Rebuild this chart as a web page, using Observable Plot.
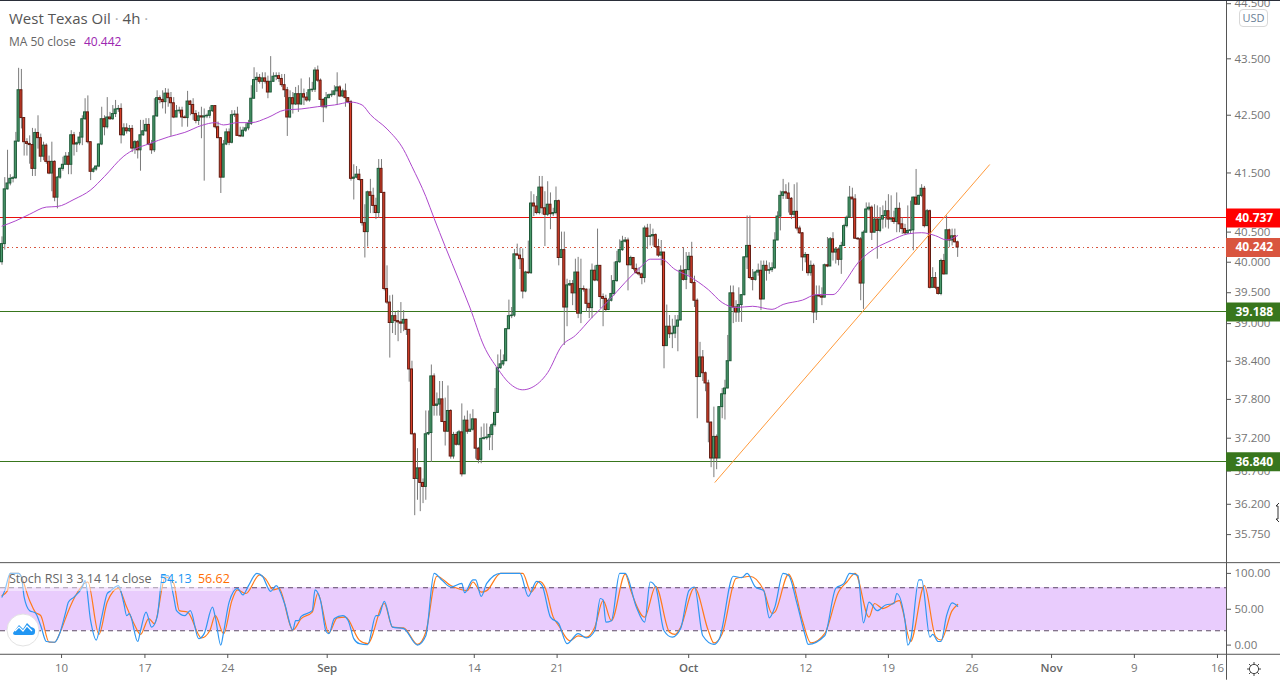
<!DOCTYPE html>
<html><head><meta charset="utf-8">
<script src="https://cdn.jsdelivr.net/npm/d3@7"></script>
<script src="https://cdn.jsdelivr.net/npm/@observablehq/plot@0.6"></script>
<style>
html,body{margin:0;padding:0;background:#fff;overflow:hidden}
#wrap{position:relative;width:1280px;height:680px;font-family:"Open Sans",sans-serif}
#wrap svg{display:block}
.ov{position:absolute;white-space:nowrap}
</style></head><body><div id="wrap">
<div id="top"></div><div id="bottom"></div>
<div class="ov" style="left:0;top:0;width:1280px;height:1px;background:#2a2e39"></div>
<div class="ov" style="left:9px;top:8px;font-size:15px;color:#555">West Texas Oil <span style="color:#aaa">·</span> 4h <span style="color:#aaa">·</span></div>
<div class="ov" style="left:9px;top:33px;font-size:12px;color:#666">MA 50 close <span style="color:#9c27b0;margin-left:5px">40.442</span></div>
<div class="ov" style="left:1239px;top:9px;width:27px;height:16px;border:1px solid #d8d8d8;border-radius:4px;font-size:11px;line-height:16px;text-align:center;color:#6b8096;background:#fff">USD</div>
<div class="ov" style="left:0;top:571px;width:232px;height:20px;background:rgba(255,255,255,.45)"></div>
<div class="ov" style="left:9px;top:570px;font-size:12.5px;color:#666">Stoch RSI 3 3 14 14 close <span style="color:#2196f3;margin-left:5px">54.13</span> <span style="color:#ff6d00;margin-left:3px">56.62</span></div>
<svg class="ov" style="left:6px;top:613px" width="34" height="34"><circle cx="17" cy="17" r="16" fill="#fff" stroke="#e3e3e3"/><path d="M7 20 L13 12 L17 16 L21 10 L25 14 Q30 15 29 19 Q29 22 26 22 L9 22 Q7 22 7 20Z" fill="#2196f3"/><path d="M9 18 L13 14 L17 18 L21 13 L26 18" fill="none" stroke="#fff" stroke-width="1.2"/></svg>
<svg class="ov" style="left:1246px;top:661px" width="16" height="16"><circle cx="8" cy="8" r="4.6" fill="none" stroke="#444"/><path d="M8 1V3.4M8 12.6V15M1 8H3.4M12.6 8H15M3 3L4.8 4.8M11.2 11.2L13 13M13 3L11.2 4.8M4.8 11.2L3 13" stroke="#444"/></svg>
<svg class="ov" style="left:1274px;top:502px" width="6" height="22"><path d="M5 1L2 4H4V17H2L5 20" fill="#fff" stroke="#333"/></svg>
</div>
<script>
const firstOpen = 40.0;
const closes = [
40.30,41.22,41.32,41.40,41.41,42.04,42.94,42.45,42.03,42.00,
41.98,41.57,42.19,42.10,41.78,41.97,41.69,41.49,41.69,41.08,
41.42,41.57,41.64,41.78,41.64,42.15,41.99,42.01,42.11,42.43,
42.55,42.03,41.52,41.56,41.61,41.99,42.43,42.29,42.46,42.43,
42.52,42.60,42.61,42.15,42.27,42.22,42.26,41.92,42.03,41.89,
42.15,42.22,42.33,41.99,41.89,42.48,42.80,42.77,42.73,42.88,
42.80,42.71,42.46,42.57,42.58,42.46,42.45,42.74,42.68,42.52,
42.40,42.48,42.46,42.48,42.49,42.57,42.66,42.29,42.10,41.42,
41.99,42.20,42.02,42.50,42.51,42.14,42.13,42.23,42.27,42.35,
42.79,43.12,43.16,43.09,43.15,43.09,42.90,43.09,43.18,43.19,
43.14,43.03,42.94,42.46,42.80,42.69,42.87,42.69,42.87,42.81,
42.76,42.94,42.95,43.29,43.11,42.77,42.64,42.80,42.85,42.86,
42.92,42.99,42.83,42.92,42.80,42.73,41.40,
41.42,41.47,41.38,40.65,40.50,41.17,41.11,40.94,40.82,41.57,
41.16,39.56,39.34,39.01,39.12,39.04,39.02,39.00,39.06,38.90,
38.27,37.26,36.58,36.74,36.52,36.46,37.26,37.28,38.16,37.70,
37.72,37.80,37.45,37.30,37.62,36.92,37.25,37.10,37.29,36.65,
37.47,37.30,37.33,37.49,37.04,36.87,37.19,37.20,37.21,37.25,
37.40,37.59,38.29,38.35,38.40,38.91,39.12,39.13,40.13,40.11,
40.05,39.52,39.83,39.82,40.98,40.93,40.82,41.25,40.90,40.79,
40.96,40.80,40.82,41.02,40.07,40.20,39.26,39.62,39.64,39.49,
39.83,39.16,39.56,39.55,39.32,39.25,39.86,39.70,39.94,39.43,
39.40,39.22,39.37,39.48,39.69,40.00,40.20,40.34,40.36,39.95,
40.07,39.89,39.82,39.80,39.74,
40.56,40.42,40.43,40.45,40.25,40.11,40.16,38.64,38.95,38.83,
38.84,38.95,39.05,39.86,39.71,39.87,40.09,39.66,39.37,38.15,
38.46,38.21,38.05,37.44,36.89,37.22,36.89,37.68,37.88,37.97,
38.40,39.49,39.26,39.18,39.30,39.46,40.08,40.27,39.74,39.71,
39.83,39.86,39.39,39.94,39.86,39.87,39.90,40.36,40.76,41.11,
41.17,41.15,41.06,40.79,40.84,40.56,40.48,40.08,40.12,39.82,
39.94,39.18,39.45,39.44,39.42,39.95,39.93,40.38,40.16,40.21,
40.04,40.27,40.60,40.74,41.08,41.05,40.39,40.38,39.65,40.49,
40.88,40.91,40.49,40.71,40.52,40.71,40.77,40.85,40.71,40.72,
40.67,40.89,40.63,40.55,40.48,40.52,40.53,41.08,40.96,41.11,
41.23,40.60,40.85,39.58,39.74,39.58,39.48,40.02,39.80,40.53,
40.36,40.43,40.33,40.242];
const highs = [
40.42,41.42,41.89,41.47,41.44,42.20,43.33,43.31,42.46,42.09,
42.14,42.27,42.26,42.49,42.17,42.03,42.00,41.79,42.03,41.71,
41.44,41.59,41.77,41.85,41.85,42.23,42.20,42.03,42.20,42.49,
42.79,42.84,42.03,41.59,41.62,42.00,42.64,42.49,42.81,42.55,
42.67,42.76,42.67,42.70,42.35,42.35,42.32,42.32,42.06,42.06,
42.41,42.41,42.44,42.44,42.06,42.79,42.93,42.84,42.93,42.97,
42.96,42.90,42.81,42.67,42.64,42.64,42.49,42.92,42.76,42.79,
42.58,42.55,42.64,42.61,42.52,42.64,42.67,42.67,42.38,42.11,
42.06,42.26,42.26,42.58,42.58,42.64,42.29,42.29,42.35,42.41,
43.02,43.34,43.25,43.22,43.25,43.25,43.19,43.54,43.25,43.25,
43.25,43.22,43.22,42.99,42.93,42.90,42.99,43.02,43.14,42.96,
42.90,43.16,43.08,43.34,43.37,43.14,42.79,42.90,42.87,42.93,
43.02,43.25,43.02,42.96,43.05,42.81,42.76,
41.64,41.61,41.56,41.38,40.96,41.19,41.39,41.24,41.07,41.73,
41.73,41.17,39.94,39.45,39.46,39.18,39.21,39.34,39.21,39.07,
38.89,38.40,37.28,37.04,36.75,36.58,37.62,37.62,38.34,38.20,
37.90,38.08,38.08,37.82,38.01,37.64,37.29,37.29,37.32,37.73,
37.54,37.62,37.57,37.64,37.49,37.06,37.37,37.42,37.42,37.37,
37.43,37.97,38.50,38.58,38.50,38.92,39.38,39.26,40.21,40.30,
40.23,40.22,39.85,40.35,41.18,41.13,41.10,41.44,41.44,41.18,
41.35,41.16,40.90,41.26,41.04,40.50,40.50,39.72,39.70,39.70,
40.05,40.08,40.05,39.61,39.56,39.56,39.97,39.94,40.55,39.94,
39.48,39.46,39.40,39.78,40.00,40.18,40.37,40.43,40.41,40.40,
40.10,40.07,39.97,39.91,39.82,
40.60,40.63,40.63,40.55,40.47,40.38,40.36,40.16,39.30,39.13,
39.07,39.13,39.13,39.94,40.24,40.16,40.16,40.33,39.77,39.40,
38.70,38.57,38.23,38.10,37.45,37.68,37.25,37.68,37.97,38.10,
38.81,39.61,39.61,39.37,39.58,39.47,40.09,40.77,40.77,39.88,
39.85,39.97,40.02,40.02,40.02,39.99,39.99,40.49,40.84,41.19,
41.39,41.30,41.33,41.08,41.30,41.33,40.60,40.49,40.16,40.12,
40.02,39.97,39.61,39.61,39.58,39.97,40.41,40.41,40.49,40.24,
40.24,40.33,40.63,40.77,41.27,41.24,41.13,40.41,40.41,40.52,
40.99,40.99,40.94,40.96,40.94,40.91,40.94,41.02,41.13,41.11,
40.85,41.16,40.99,40.74,40.63,40.94,41.02,41.09,41.56,41.12,
41.30,41.27,40.88,40.87,39.91,39.83,39.58,40.05,40.13,40.77,
40.55,40.55,40.55,40.35];
const lows = [
39.95,40.20,41.21,41.28,41.33,41.39,42.03,42.26,41.79,41.79,
41.65,41.44,41.44,41.91,41.68,41.71,41.65,41.47,41.18,41.01,
40.89,41.39,41.53,41.65,41.47,41.47,41.79,41.85,41.97,41.97,
42.41,42.00,41.37,41.50,41.53,41.59,41.97,42.14,42.26,42.41,
42.41,42.46,42.55,42.00,42.13,42.17,42.20,41.85,41.82,41.74,
41.53,42.13,42.20,41.97,41.82,41.85,42.46,42.70,42.61,42.52,
42.64,42.13,42.44,42.46,42.52,42.29,42.44,42.29,42.49,42.41,
42.35,42.32,42.09,41.36,42.44,42.44,42.55,42.26,42.09,41.15,
41.42,41.97,41.97,42.00,42.46,42.13,42.11,42.11,42.20,42.23,
42.32,42.79,42.90,43.05,42.96,43.05,42.79,42.90,43.08,43.11,
43.08,42.99,42.81,42.13,42.44,42.52,42.67,42.55,42.67,42.67,
42.73,42.73,42.90,42.90,43.08,42.64,42.37,42.61,42.79,42.81,
42.84,42.67,42.81,42.81,42.64,42.70,41.36,
41.04,41.40,41.36,40.60,40.07,40.25,40.81,40.81,40.71,40.73,
41.15,39.53,39.31,38.45,38.84,38.81,38.71,38.84,38.87,38.81,
38.07,37.25,36.03,36.26,36.09,36.21,36.26,37.24,36.83,37.54,
37.54,37.54,37.44,37.08,37.29,36.88,36.88,37.08,37.08,36.61,
36.66,37.26,37.29,37.31,36.88,36.81,36.81,37.17,37.17,37.01,
37.01,37.37,37.59,38.27,38.32,38.40,38.92,39.08,39.10,40.10,
39.88,39.40,39.50,39.80,39.80,40.76,40.79,40.79,40.79,40.26,
40.76,40.54,40.76,40.79,39.94,40.07,38.65,38.95,39.60,39.29,
39.21,39.08,39.00,39.51,39.18,39.08,39.08,39.68,39.68,39.24,
38.95,39.18,39.21,39.35,39.45,39.67,39.98,40.18,40.32,39.53,
39.94,39.86,39.80,39.77,39.63,
39.66,40.21,40.27,40.27,40.24,40.08,39.94,38.28,38.65,38.76,
38.60,38.76,38.55,39.05,39.69,39.55,39.77,39.64,39.26,37.50,
38.15,38.08,37.92,37.13,36.75,36.60,36.72,36.89,37.50,37.48,
37.97,38.41,39.00,39.02,39.02,39.02,39.45,39.88,39.72,39.53,
39.69,39.77,39.21,39.39,39.69,39.80,39.83,39.88,40.36,40.52,
41.05,41.05,40.82,40.71,40.74,40.52,40.46,39.85,39.99,39.77,
39.77,39.00,39.05,39.42,39.29,39.42,39.91,39.94,40.02,39.97,
39.94,39.80,40.27,40.57,40.74,40.74,40.38,40.36,39.37,39.23,
40.49,40.85,40.36,40.49,40.05,40.49,40.55,40.57,40.55,40.66,
40.63,40.49,40.49,40.46,40.46,40.46,40.46,40.19,40.95,40.95,
41.08,40.57,40.60,39.56,39.58,39.55,39.46,39.45,39.79,39.82,
40.24,40.27,40.32,40.08];
const maBars = [0,5,10,16,20,26,32,37,44,48,53,60,66,72,77,80,85,90,96,102,108,114,120,126,130,133,139,145,148,153,156,160,165,169,174,179,183,188,191,197,202,207,213,219,225,231,234,238,243,248,255,260,265,271,278,282,289,294,300,304,309,313,321,327,332,337,341,345];
const maValues = [40.60,40.69,40.80,40.92,40.93,41.05,41.21,41.44,41.79,41.91,42.00,42.12,42.20,42.32,42.37,42.33,42.37,42.37,42.46,42.59,42.61,42.65,42.68,42.73,42.68,42.51,42.26,41.90,41.61,41.10,40.73,40.26,39.70,39.25,38.64,38.28,38.06,37.95,37.98,38.22,38.64,38.81,39.10,39.37,39.67,39.94,40.05,40.05,39.88,39.77,39.55,39.34,39.26,39.28,39.23,39.31,39.38,39.47,39.47,39.66,39.99,40.16,40.36,40.47,40.49,40.44,40.37,40.442];
const kBars = [0,1,3,6,7,8,10,12,14,16,19,21,23,24,26,29,30,32,34,36,38,39,42,44,45,46,49,50,52,54,56,58,60,62,63,66,68,71,73,76,77,79,80,82,85,87,89,92,94,97,99,102,105,106,107,108,112,113,115,117,118,120,123,125,127,129,132,135,136,138,141,145,150,153,156,159,162,166,167,170,171,173,175,180,187,190,193,195,198,201,204,208,211,214,216,217,218,220,223,225,229,232,234,236,239,242,245,248,250,253,257,259,264,267,269,272,275,277,279,282,284,287,290,291,297,301,304,306,309,311,313,316,319,322,323,326,327,328,331,332,335,336,338,339,341,343,345];
const kValues = [67,76,100,100,95,67,48,45,27,5,4,18,46,60,67,81,90,34,7,39,72,75,83,58,41,44,5,20,46,25,39,97,97,67,48,41,48,9,16,53,39,0,18,60,79,70,83,100,96,75,83,58,21,34,34,40,48,77,62,19,16,37,41,34,9,2,0.5,41,41,61,25,23,0,13,100,90,81,86,73,91,91,68,86,100,100,68,89,83,39,30,2,16,10,20,65,63,32,34,100,100,53,32,88,81,20,11,23,76,81,13,1,9,96,94,100,81,76,38,53,100,97,58,13,1,13,79,86,100,97,31,60,48,56,58,72,34,0,7,91,91,11,15,5,5,41,59,54.13];
const dBars = [0,2,3,6,10,12,14,17,19,21,24,26,31,35,38,42,45,48,50,53,55,59,62,64,67,72,75,77,80,83,85,88,93,95,98,100,105,108,112,114,118,121,124,129,132,138,141,145,150,153,157,162,168,170,173,175,180,188,191,194,196,199,201,205,208,211,214,217,220,225,227,232,236,241,243,245,250,255,257,260,265,268,270,275,278,279,284,285,289,292,297,302,305,308,313,315,318,324,325,328,333,337,339,343,345];
const dValues = [69,76,100,100,62,46,41,4,4,18,48,65,88,15,60,79,53,27,15,37,30,95,86,48,46,10,20,41,16,62,77,72,98,93,77,79,21,37,46,72,17,38,39,7,2,58,25,24,1,18,96,83,76,88,74,76,100,100,74,89,81,39,27,6,13,11,25,62,34,99,76,39,82,18,15,25,80,20,3,16,93,95,96,76,44,46,99,93,34,3,16,74,88,100,39,58,51,62,51,5,83,12,7,48,56.62];
const levelPrices = [40.737, 40.242, 39.188, 36.84];
const levelColors = ["#e8100c", "#d9553f", "#38761d", "#38761d"];
const tagColors = ["#ff0000", "#d9553f", "#38761d", "#38761d"];
const trendBars = [257.4, 356.5];
const trendPrices = [36.53, 41.64];
const priceTicks = [44.5,43.5,42.5,41.5,40.5,40,39.5,39,38.4,37.8,37.2,36.7,36.2,35.75];
const stochTicks = [100,50,0];
const dayBars = [21.5,51.6,81.5,170.5,200.4,290.2,320,350.2,408.8,438.8];
const dayLabels = ["10","17","24","14","21","12","19","26","9","16"];
const monthBars = [117.4,247.9,378.9];
const monthLabels = ["Sep","Oct","Nov"];
const stochBand = [20,80];

const font = '"Open Sans",sans-serif';
const left = -0.54, axisBar = 442.06, endBar = 461.6;
const xScale = {domain:[left,axisBar], range:[0,1226]};
const ink = "#555";
const txt = "#757575";
const opens = [firstOpen, ...closes.slice(0,-1)];
const bars = closes.map((c,i)=>({i, open:opens[i], close:c, high:highs[i], low:lows[i]}));
const up = bars.filter(d=>d.close>=d.open), down = bars.filter(d=>d.close<d.open);
const body = {x1:d=>d.i-0.38, x2:d=>d.i+0.38, y1:"open", y2:"close", strokeWidth:1};
const levels = levelPrices.map((p,i)=>({p, line:levelColors[i], tag:tagColors[i]}));
const ma = maBars.map((b,i)=>({b, v:maValues[i]}));
const trend = trendBars.map((b,i)=>({b, v:trendPrices[i]}));

const main = Plot.plot({
  width:1280, height:562, marginLeft:0, marginRight:54, marginTop:0, marginBottom:0,
  style:{fontFamily:font, fontSize:"11.5px", color:txt, background:"transparent", overflow:"visible"},
  x:{...xScale, axis:null},
  y:{type:"log", domain:[35.35,44.57], range:[561.4,-0.6], axis:null},
  marks:[
    Plot.ruleY(levels.filter(d=>d.p!==40.242),{y:"p", x1:left, x2:axisBar, stroke:"line", strokeWidth:1, shapeRendering:"crispEdges"}),
    Plot.ruleY(levels.filter(d=>d.p===40.242),{y:"p", x1:left+1, x2:axisBar, stroke:"line", strokeWidth:1, strokeDasharray:"1.5,3", shapeRendering:"crispEdges"}),
    Plot.ruleX(bars,{x:"i", y1:"low", y2:"high", stroke:"#7b7b7b", strokeWidth:1}),
    Plot.rect(up,{...body, fill:"#4b9a6c", stroke:"#1d5a38"}),
    Plot.rect(down,{...body, fill:"#d9402a", stroke:"#611a10"}),
    Plot.line(ma,{x:"b", y:"v", stroke:"#ad48cc", strokeWidth:1, curve:"monotone-x"}),
    Plot.line(trend,{x:"b", y:"v", stroke:"#ff9a3c", strokeWidth:1}),
    Plot.axisY({anchor:"right", ticks:priceTicks, tickFormat:d=>d.toFixed(3), tickSize:4, tickPadding:4, label:null, stroke:ink, fill:txt}),
    Plot.ruleX([axisBar],{stroke:ink, strokeWidth:1}),
    Plot.ruleY(levels,{y:"p", x1:axisBar, x2:endBar, stroke:"tag", strokeWidth:19}),
    Plot.text(levels,{x:axisBar, y:"p", dx:9, text:d=>d.p.toFixed(3), textAnchor:"start", fill:"white", fontWeight:"bold", fontSize:12})
  ]
});
const kLine = kBars.map((b,i)=>({b, v:kValues[i]}));
const dLine = dBars.map((b,i)=>({b, v:dValues[i]}));
const yTop = 115, yEnd = -49, yAxis = -12.8;
const lower = Plot.plot({
  width:1280, height:118, marginLeft:0, marginRight:54, marginTop:0, marginBottom:26,
  style:{fontFamily:font, fontSize:"11.5px", color:txt, background:"transparent", overflow:"visible"},
  x:{...xScale, axis:null},
  y:{domain:[0,100], range:[82.6,10.9], axis:null},
  marks:[
    Plot.rect([stochBand],{x1:left, x2:axisBar, y1:d=>d[0], y2:d=>d[1], fill:"#e9ccfd"}),
    Plot.ruleY(stochBand,{x1:left, x2:axisBar, stroke:"#5d4a66", strokeWidth:1, strokeDasharray:"5,4"}),
    Plot.line(dLine,{x:"b", y:"v", stroke:"#ff7a1a", strokeWidth:1.2, curve:"monotone-x"}),
    Plot.line(kLine,{x:"b", y:"v", stroke:"#2f97f2", strokeWidth:1.2, curve:"monotone-x"}),
    Plot.ruleY([yTop, yAxis],{x1:left, x2:endBar, stroke:ink, strokeWidth:1}),
    Plot.ruleX([axisBar],{y1:yEnd, y2:yTop, stroke:ink, strokeWidth:1}),
    Plot.axisY({anchor:"right", ticks:stochTicks, tickFormat:d=>d.toFixed(2), tickSize:4, tickPadding:4, label:null, stroke:ink, fill:txt}),
    Plot.axisX({ticks:dayBars, tickFormat:d=>dayLabels[dayBars.indexOf(d)], tickSize:4, tickPadding:5, label:null, stroke:ink, fill:txt}),
    Plot.axisX({ticks:monthBars, tickFormat:d=>monthLabels[monthBars.indexOf(d)], tickSize:4, tickPadding:5, label:null, stroke:ink, fill:"#666", fontWeight:600})
  ]
});
document.getElementById("top").append(main);
document.getElementById("bottom").append(lower);
</script></body></html>
